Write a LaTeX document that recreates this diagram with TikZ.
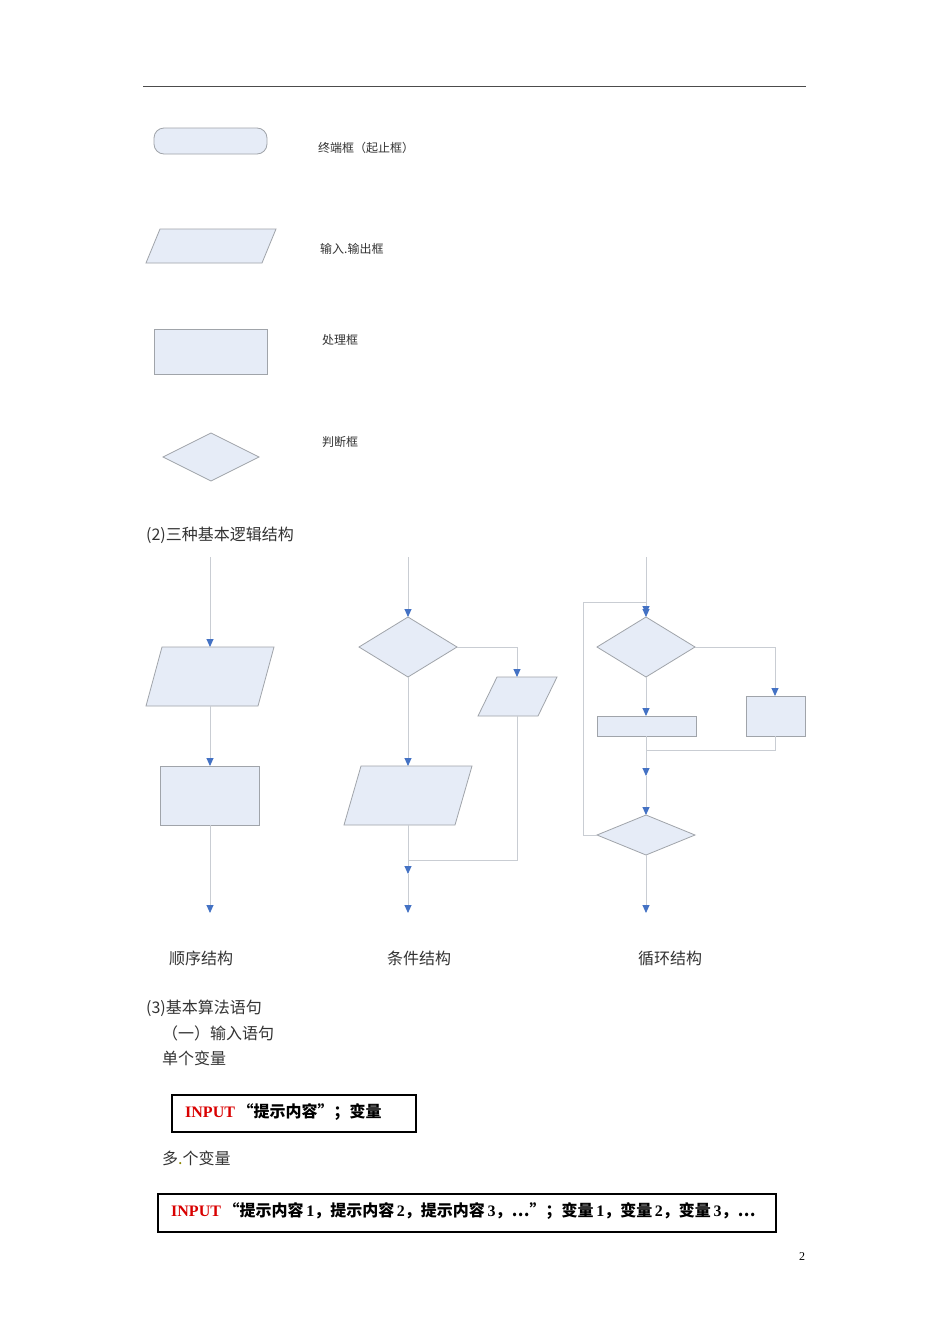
\documentclass[tikz,border=0pt]{standalone}
\usepackage{fontspec}
\setmainfont{Liberation Serif}
\newfontfamily\cjk{Noto Sans CJK SC}
\usetikzlibrary{arrows.meta,shapes.geometric}
\definecolor{shfill}{HTML}{E6ECF7}
\definecolor{shdraw}{HTML}{A0A4AA}
\definecolor{conn}{HTML}{C9CDD3}
\definecolor{arr}{HTML}{4472C4}
\tikzset{
 shp/.style={fill=shfill,draw=shdraw,line width=0.8pt},
 ln/.style={draw=conn,line width=0.9pt},
 ar/.style={ln,-{Triangle[length=8pt,width=7pt,color=arr]}},
 lbl/.style={anchor=west,inner sep=0pt,font=\cjk\fontsize{12}{14}\selectfont,text=black!80},
 txt/.style={anchor=west,inner sep=0pt,font=\cjk\fontsize{16}{19}\selectfont,text=black!80},
 inbox/.style={draw=black,line width=1.8pt}
}
\begin{document}
\begin{tikzpicture}[x=1pt,y=-1pt]
\useasboundingbox (0,0) rectangle (950,1344);
\fill[white] (0,0) rectangle (950,1344);
\draw[line width=1pt,black!70] (143,86) -- (806,86);
% legend
\draw[shp,rounded corners=10pt] (154,128) rectangle (267,154);
\node[lbl] (l1) at (318,148) {终端框（起止框）};
\draw[shp] (146,263) -- (262,263) -- (276,229) -- (160,229) -- cycle;
\node[lbl] (l2) at (320,249) {输入.输出框};
\draw[shp] (154,329) rectangle (267,374);
\node[lbl] (l3) at (322,340) {处理框};
\draw[shp] (163,457) -- (211,433) -- (259,457) -- (211,481) -- cycle;
\node[lbl] (l4) at (322,442) {判断框};
\node[txt] (h2) at (146,535) {(2)三种基本逻辑结构};
% sequence
\coordinate (s0) at (210,557);
\draw[shp] (146,706) -- (258,706) -- (274,647) -- (162,647) -- cycle;
\coordinate (sp1) at (210,647); \coordinate (sp2) at (210,706);
\draw[shp] (160,766) rectangle (259,825);
\coordinate (sr1) at (210,766); \coordinate (sr2) at (210,825);
\coordinate (se) at (210,913);
\draw[ar] (s0) -- (sp1);
\draw[ar] (sp2) -- (sr1);
\draw[ar] (sr2) -- (se);
% condition
\coordinate (c0) at (408,557);
\draw[shp] (359,647) -- (408,617) -- (457,647) -- (408,677) -- cycle;
\draw[shp] (478,716) -- (538,716) -- (557,677) -- (497,677) -- cycle;
\draw[shp] (344,825) -- (455,825) -- (472,766) -- (361,766) -- cycle;
\draw[ar] (c0) -- (408,617);
\draw[ar] (457,647) -- (517,647) -- (517,677);
\draw[ar] (408,677) -- (408,766);
\draw[ln] (517,716) -- (517,860) -- (408,860);
\draw[ar] (408,825) -- (408,874);
\draw[ar] (408,874) -- (408,913);
% loop
\draw[shp] (597,647) -- (646,617) -- (695,647) -- (646,677) -- cycle;
\draw[shp] (746,696) rectangle (805,736);
\draw[shp] (597,716) rectangle (696,736);
\draw[shp] (597,835) -- (646,815) -- (695,835) -- (646,855) -- cycle;
\draw[ar] (646,557) -- (646,617);
\draw[ar] (597,835) -- (583,835) -- (583,602) -- (646,602) -- (646,614);
\draw[ar] (695,647) -- (775,647) -- (775,696);
\draw[ar] (646,677) -- (646,716);
\draw[ln] (775,736) -- (775,750) -- (646,750);
\draw[ar] (646,736) -- (646,776);
\draw[ar] (646,776) -- (646,815);
\draw[ar] (646,855) -- (646,913);
\node[txt] (t1) at (169,958) {顺序结构};
\node[txt] (t2) at (387,958) {条件结构};
\node[txt] (t3) at (638,958) {循环结构};
\node[txt] (h3) at (146,1008) {(3)基本算法语句};
\node[txt] (h4) at (162,1033) {（一）输入语句};
\node[txt] (h5) at (162,1058) {单个变量};
\draw[inbox] (172,1095) rectangle (416,1132);
\node[anchor=west,inner sep=0pt,font=\fontsize{16}{19}\selectfont\bfseries] (b1) at (185,1112) {\textcolor{red!85!black}{INPUT}\,{\cjk “提示内容”；变量}};
\node[txt] (h6) at (162,1158) {多\textcolor{olive}{.}个变量};
\draw[inbox] (158,1194) rectangle (776,1232);
\node[anchor=west,inner sep=0pt,font=\fontsize{16}{19}\selectfont\bfseries] (b2) at (171,1211) {\textcolor{red!85!black}{INPUT}\,{\cjk “提示内容}\,1{\cjk ，提示内容}\,2{\cjk ，提示内容}\,3{\cjk ，…”；变量}\,1{\cjk ，变量}\,2{\cjk ，变量}\,3{\cjk ，…}};
\node[anchor=center,font=\fontsize{12}{14}\selectfont] (pg) at (802,1257) {2};
\end{tikzpicture}
\end{document}
